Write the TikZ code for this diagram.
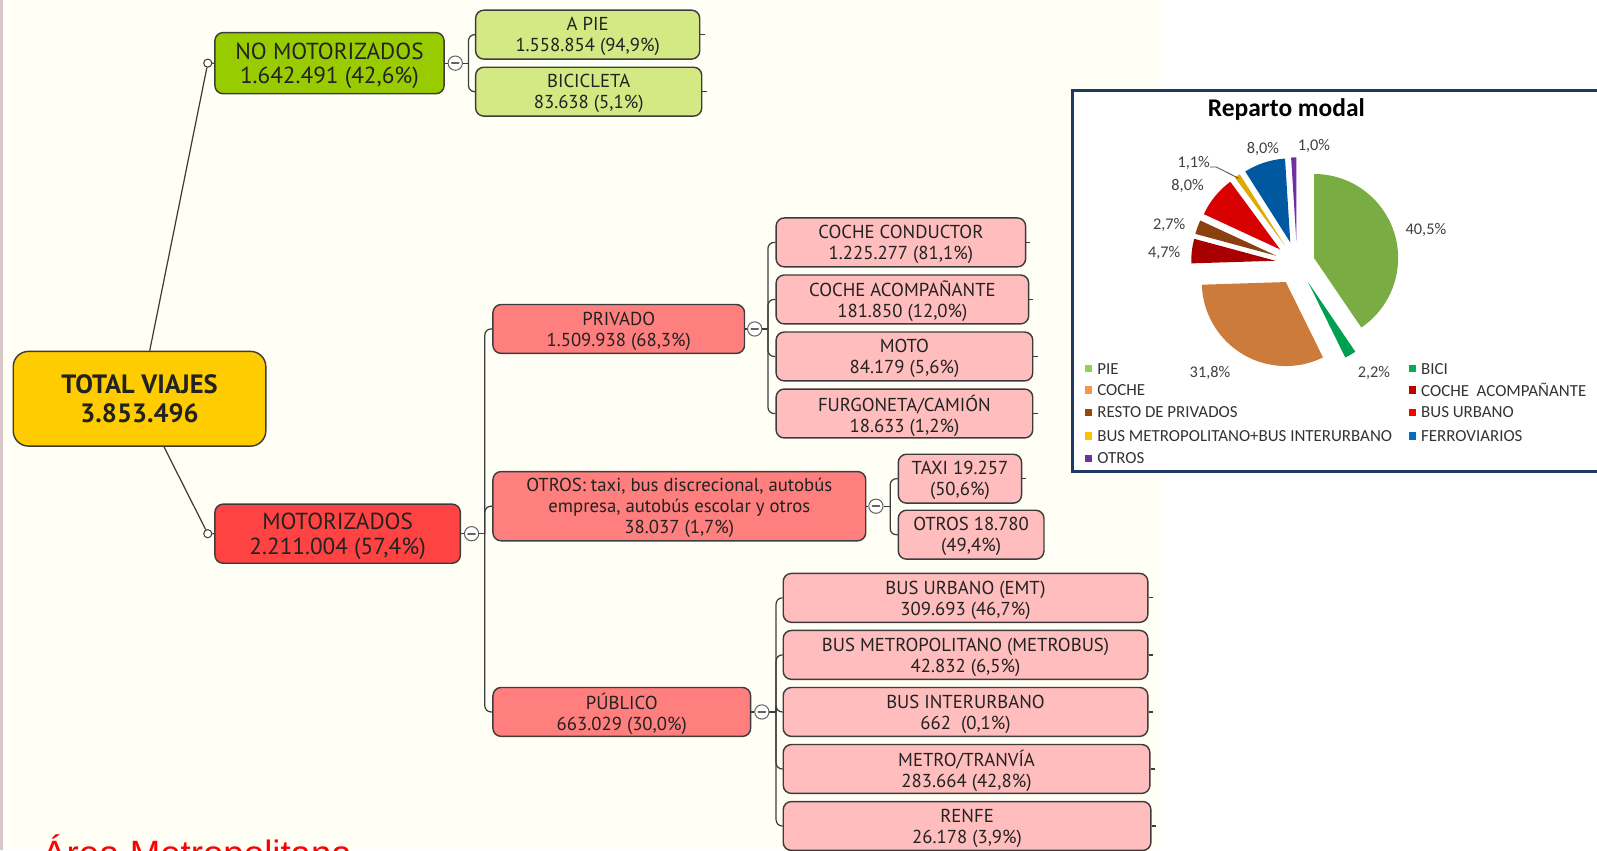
\documentclass[tikz,border=0pt]{standalone}
\usepackage{fontspec}
\setmainfont{PT Sans}
\newfontfamily\chartfont{Carlito}
\newfontfamily\arialfont{Liberation Sans}

\definecolor{cream}{HTML}{FFFFF5}
\definecolor{stripe}{HTML}{D8C8CC}
\definecolor{totalFill}{HTML}{FFCC00}
\definecolor{noMotFill}{HTML}{99CC00}
\definecolor{leafGreen}{HTML}{D4E883}
\definecolor{motFill}{HTML}{FF4343}
\definecolor{midRed}{HTML}{FF7E7E}
\definecolor{leafPink}{HTML}{FFBDBD}
\definecolor{nodeLine}{HTML}{3C3C3C}
\definecolor{nodeText}{HTML}{222222}
\definecolor{frameBlue}{HTML}{1F3A60}
\definecolor{pieGreen}{HTML}{79AC42}
\definecolor{pieBici}{HTML}{00A050}
\definecolor{pieCoche}{HTML}{CD7B3A}
\definecolor{pieAcomp}{HTML}{A80000}
\definecolor{pieResto}{HTML}{8A4010}
\definecolor{pieBusUrb}{HTML}{D80000}
\definecolor{pieBusMet}{HTML}{E0A800}
\definecolor{pieFerro}{HTML}{0058A0}
\definecolor{pieOtros}{HTML}{7030A0}
\definecolor{legPie}{HTML}{92D050}
\definecolor{legBici}{HTML}{00B050}
\definecolor{legCoche}{HTML}{F79646}
\definecolor{legAcomp}{HTML}{C00000}
\definecolor{legResto}{HTML}{984806}
\definecolor{legBusUrb}{HTML}{FF0000}
\definecolor{legBusMet}{HTML}{FFC000}
\definecolor{legFerro}{HTML}{0070C0}
\definecolor{legOtros}{HTML}{7030A0}

\newcommand{\modalpie}[1][]
{\begin{scope}[#1]
	\foreach \s/\e/\col/\ex in {90/-55.8/pieGreen/8.75pt, -55.8/-63.72/pieBici/10.75pt,
		-63.72/-178.2/pieCoche/10.75pt, -178.2/-195.12/pieAcomp/10.75pt,
		-195.12/-204.84/pieResto/10.75pt, -204.84/-233.64/pieBusUrb/10.75pt,
		-233.64/-237.6/pieBusMet/10.75pt, -237.6/-266.4/pieFerro/10.75pt,
		-266.4/-270/pieOtros/10.75pt}
	{
		\pgfmathsetmacro{\m}{(\s+\e)/2}
		\fill[\col] (\m:\ex) -- ++(\s:41.25pt) arc[start angle=\s, end angle=\e, radius=41.25pt] -- cycle;
	}
\end{scope}
}

\begin{document}
\begin{tikzpicture}[x={(0.5pt,0)},y={(0,-0.5pt)},
	box/.style={draw=nodeLine, line width=0.7pt, rounded corners=4pt, align=center,
		text=nodeText, inner sep=0pt, text depth=0pt, font=\fontsize{9.2}{10.3}\selectfont},
	sz/.style 2 args={minimum width=#1*0.5pt, minimum height=#2*0.5pt},
	conn/.style={draw=nodeLine, line width=0.6pt},
	knob/.style={circle, draw=nodeLine, fill=white, line width=0.5pt, minimum size=4pt, inner sep=0pt},
	collapse/.style={circle, draw=nodeLine!80, fill=white, line width=0.5pt, minimum size=7pt, inner sep=0pt,
		path picture={\draw[line width=0.9pt, line cap=round]
			([xshift=-1.7pt]path picture bounding box.center) -- ([xshift=1.7pt]path picture bounding box.center);}},
	pct/.style={text=black!75, inner sep=0pt, font=\chartfont\fontsize{8}{9}\selectfont},
	leg/.style={anchor=west, text=black!80, inner sep=0pt, font=\chartfont\fontsize{8.3}{9}\selectfont},
	legsq/.style={minimum size=3.6pt, inner sep=0pt}]
\useasboundingbox (0,0) rectangle (1568,835);
\fill[cream] (0,0) rectangle (1140,835);
\fill[stripe] (0,0) rectangle (2.7,835);

\node[box,sz={248}{93},fill=totalFill,rounded corners=7.5pt,font=\bfseries\fontsize{13}{14}\selectfont] (total) at (137,391.5) {TOTAL VIAJES\\3.853.496};
\node[box,sz={225}{60},fill=noMotFill,font=\fontsize{11.4}{12}\selectfont] (noMot) at (323.5,62) {NO MOTORIZADOS\\1.642.491 (42,6\%)};
\node[box,sz={241}{58},fill=motFill,font=\fontsize{11.4}{12}\selectfont] (mot) at (331.5,524) {MOTORIZADOS\\2.211.004 (57,4\%)};

\node[box,sz={220}{48},fill=leafGreen] (aPie) at (577,34) {A PIE\\1.558.854 (94,9\%)};
\node[box,sz={222}{48},fill=leafGreen] (bici) at (578,90) {BICICLETA\\83.638 (5,1\%)};

\node[box,sz={247}{48},fill=midRed] (priv) at (607.5,323) {PRIVADO\\1.509.938 (68,3\%)};
\node[box,sz={366}{68},fill=midRed] (otros) at (667,497) {OTROS: taxi, bus discrecional, autobús\\empresa, autobús escolar y otros\\38.037 (1,7\%)};
\node[box,sz={253}{48},fill=midRed] (pub) at (610.5,699) {PÚBLICO\\663.029 (30,0\%)};

\node[box,sz={245}{48},fill=leafPink] (cCond) at (884.5,238) {COCHE CONDUCTOR\\1.225.277 (81,1\%)};
\node[box,sz={248}{48},fill=leafPink] (cAcomp) at (886,294) {COCHE ACOMPAÑANTE\\181.850 (12,0\%)};
\node[box,sz={252}{48},fill=leafPink] (moto) at (888,350) {MOTO\\84.179 (5,6\%)};
\node[box,sz={252}{48},fill=leafPink] (furgo) at (888,406) {FURGONETA/CAMIÓN\\18.633 (1,2\%)};
\node[box,sz={121}{48},fill=leafPink] (taxi) at (942.5,470) {TAXI 19.257\\(50,6\%)};
\node[box,sz={143}{48},fill=leafPink] (otrosB) at (953.5,525) {OTROS 18.780\\(49,4\%)};
\node[box,sz={358}{48},fill=leafPink] (busUrb) at (948,587) {BUS URBANO (EMT)\\309.693 (46,7\%)};
\node[box,sz={358}{48},fill=leafPink] (busMet) at (948,643) {BUS METROPOLITANO (METROBUS)\\42.832 (6,5\%)};
\node[box,sz={358}{48},fill=leafPink] (busInt) at (948,699) {BUS INTERURBANO\\662\ \ (0,1\%)};
\node[box,sz={360}{48},fill=leafPink] (metro) at (949,755) {METRO/TRANVÍA\\283.664 (42,8\%)};
\node[box,sz={361}{48},fill=leafPink] (renfe) at (949.5,811) {RENFE\\26.178 (3,9\%)};

\node[knob] (kNoMot) at (204,62) {};
\node[knob] (kMot) at (204,524) {};
\draw[conn] ([xshift=5pt]total.north) -- (kNoMot) -- (noMot);
\draw[conn] ([xshift=12pt]total.south) -- (kMot) -- (mot);

\node[collapse] (cNoMot) at (447,62) {};
\node[collapse] (cMot) at (463,524) {};
\node[collapse] (cPriv) at (741,323) {};
\node[collapse] (cOtros) at (860,497) {};
\node[collapse] (cPub) at (748,699) {};
\foreach \p/\c/\d in {noMot/cNoMot/13, mot/cMot/13, priv/cPriv/13, otros/cOtros/14, pub/cPub/14}
	\draw[conn] (\p) -- (\c) -- ++(\d,0) coordinate (b\c);
\foreach \c in {aPie,bici}
	\draw[conn,rounded corners=3pt] (bcNoMot) |- (\c.west);
\foreach \c in {priv,otros,pub}
	\draw[conn,rounded corners=3pt] (bcMot) |- (\c.west);
\foreach \c in {cCond,cAcomp,moto,furgo}
	\draw[conn,rounded corners=3pt] (bcPriv) |- (\c.west);
\foreach \c in {taxi,otrosB}
	\draw[conn,rounded corners=3pt] (bcOtros) |- (\c.west);
\foreach \c in {busUrb,busMet,busInt,metro,renfe}
	\draw[conn,rounded corners=3pt] (bcPub) |- (\c.west);
\foreach \c in {aPie,bici,cCond,cAcomp,moto,furgo,taxi,busUrb,busMet,busInt,metro,renfe}
	\draw[conn] (\c.east) -- ++(4,0);

\draw[frameBlue, line width=1.4pt, fill=white] (1053,89) rectangle (1600,463);
\node[font=\chartfont\bfseries\fontsize{12.5}{14}\selectfont, inner sep=0pt] (pieTitle) at (1263,108) {Reparto modal};
\modalpie[shift={(1273.5,258.5)}]

\node[pct] (l405) at (1400,226) {40,5\%};
\node[pct] (l318) at (1188,366) {31,8\%};
\node[pct] (l22) at (1349,366) {2,2\%};
\node[pct] (l47) at (1143,248) {4,7\%};
\node[pct] (l27) at (1148,221) {2,7\%};
\node[pct] (l80a) at (1166,183) {8,0\%};
\node[pct] (l11) at (1172,160) {1,1\%};
\node[pct] (l80b) at (1240,146) {8,0\%};
\node[pct] (l10) at (1290,143) {1,0\%};
\coordinate (goldTip) at (1216,175);
\draw[black!70, line width=0.4pt] ([yshift=-2pt]l11.east) -- ++(6,0) -- (goldTip);

\foreach \y/\col/\txt [count=\i] in {362/legPie/PIE, 383/legCoche/COCHE, 405/legResto/RESTO DE PRIVADOS,
		428/legBusMet/BUS METROPOLITANO+BUS INTERURBANO, 450/legOtros/OTROS}
{
	\node[legsq,fill=\col] (sqL\i) at (1069,\y) {};
	\node[leg] (txL\i) at (1077,\y) {\txt};
}
\foreach \y/\col/\txt [count=\i] in {362/legBici/BICI, 383/legAcomp/COCHE\ \ ACOMPAÑANTE,
		405/legBusUrb/BUS URBANO, 428/legFerro/FERROVIARIOS}
{
	\node[legsq,fill=\col] (sqR\i) at (1387,\y) {};
	\node[leg] (txR\i) at (1395,\y) {\txt};
}

\node[anchor=base west, text=red, inner sep=0pt, font=\arialfont\fontsize{18}{20}\selectfont] (areaLbl) at (41,851) {Área Metropolitana};
\end{tikzpicture}
\end{document}
